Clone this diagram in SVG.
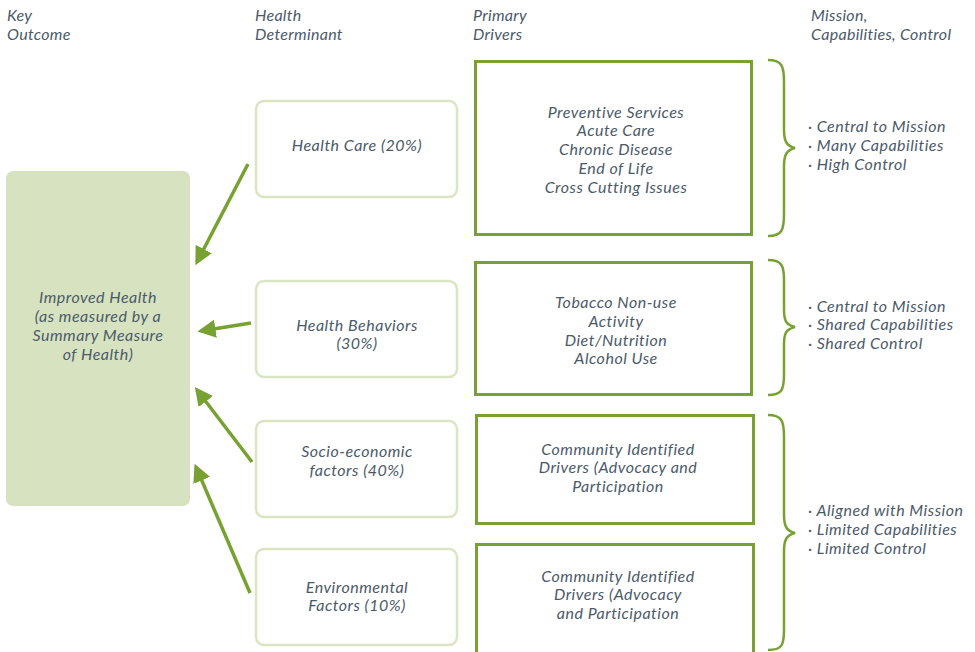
<svg xmlns="http://www.w3.org/2000/svg" width="975" height="652" viewBox="0 0 975 652">
<defs>
<style>
text{font-family:Lato,"Open Sans","Liberation Sans",sans-serif;font-style:italic;font-size:16px;letter-spacing:0.5px;fill:#4b5a69}
.h{letter-spacing:0.3px}
.c{text-anchor:middle}
.det{fill:#fff;stroke:#d9e5c3;stroke-width:2.5}
.drv{fill:#fff;stroke:#77a232;stroke-width:3}
.br{fill:none;stroke:#77a232;stroke-width:2.5}
.ar{stroke:#77a232;stroke-width:3.5;fill:none;marker-end:url(#ah)}
</style>
<marker id="ah" viewBox="0 0 10 10" refX="8" refY="5" markerWidth="5.2" markerHeight="5.2" orient="auto" markerUnits="strokeWidth">
<path d="M0,0 L10,5 L0,10 Z" fill="#77a232"/>
</marker>
</defs>
<rect width="975" height="652" fill="#fff"/>
<g id="headers">
<text class="h" x="7" y="21">Key</text><text class="h" x="7" y="40">Outcome</text>
<text class="h" x="255" y="21">Health</text><text class="h" x="255" y="40">Determinant</text>
<text class="h" x="473" y="21">Primary</text><text class="h" x="473" y="40">Drivers</text>
<text class="h" x="811" y="21">Mission,</text><text class="h" x="811" y="40">Capabilities, Control</text>
</g>
<g id="key-outcome">
<rect x="6" y="171" width="184" height="335" rx="7" fill="#d7e3c0"/>
<text class="c" x="98" y="303">Improved Health</text>
<text class="c" x="98" y="322">(as measured by a</text>
<text class="c" x="98" y="341">Summary Measure</text>
<text class="c" x="98" y="360">of Health)</text>
</g>
<g id="det-health-care">
<rect class="det" x="256" y="101" width="201" height="96" rx="8"/>
<text class="c" x="357" y="151">Health Care (20%)</text>
</g>
<g id="det-health-behaviors">
<rect class="det" x="256" y="281" width="201" height="96" rx="8"/>
<text class="c" x="357" y="331">Health Behaviors</text>
<text class="c" x="357" y="349">(30%)</text>
</g>
<g id="det-socio">
<rect class="det" x="256" y="421" width="201" height="96" rx="8"/>
<text class="c" x="357" y="457">Socio-economic</text>
<text class="c" x="357" y="476">factors (40%)</text>
</g>
<g id="det-env">
<rect class="det" x="256" y="549" width="201" height="96" rx="8"/>
<text class="c" x="357" y="593">Environmental</text>
<text class="c" x="357" y="611">Factors (10%)</text>
</g>
<g id="drv-1">
<rect class="drv" x="475.5" y="61.5" width="276" height="173"/>
<text class="c" x="616" y="118">Preventive Services</text>
<text class="c" x="616" y="136">Acute Care</text>
<text class="c" x="616" y="155">Chronic Disease</text>
<text class="c" x="616" y="174">End of Life</text>
<text class="c" x="616" y="193">Cross Cutting Issues</text>
</g>
<g id="drv-2">
<rect class="drv" x="475.5" y="262.5" width="276" height="132"/>
<text class="c" x="616" y="308">Tobacco Non-use</text>
<text class="c" x="616" y="327">Activity</text>
<text class="c" x="616" y="346">Diet/Nutrition</text>
<text class="c" x="616" y="364">Alcohol Use</text>
</g>
<g id="drv-3">
<rect class="drv" x="476.5" y="415.5" width="277" height="108"/>
<text class="c" x="618" y="455">Community Identified</text>
<text class="c" x="618" y="473">Drivers (Advocacy and</text>
<text class="c" x="618" y="492">Participation</text>
</g>
<g id="drv-4">
<rect class="drv" x="476.5" y="544.5" width="277" height="115"/>
<text class="c" x="618" y="582">Community Identified</text>
<text class="c" x="618" y="600">Drivers (Advocacy</text>
<text class="c" x="618" y="619">and Participation</text>
</g>
<g id="mission-1">
<path class="br" d="M768,60 C782,60 784,66 784,82 L784,130 C784,142 787,146 795,148 C787,150 784,154 784,166 L784,214 C784,230 782,236 768,236"/>
<text x="808" y="132">· Central to Mission</text>
<text x="808" y="151">· Many Capabilities</text>
<text x="808" y="170">· High Control</text>
</g>
<g id="mission-2">
<path class="br" d="M768,260 C782,260 784,266 784,280 L784,310 C784,322 787,325 795,327 C787,329 784,332 784,344 L784,374 C784,390 782,395 768,395"/>
<text x="808" y="312">· Central to Mission</text>
<text x="808" y="330">· Shared Capabilities</text>
<text x="808" y="349">· Shared Control</text>
</g>
<g id="mission-3">
<path class="br" d="M768,415 C782,415 784,421 784,437 L784,515 C784,527 787,531 795,533 C787,535 784,539 784,551 L784,630 C784,645 782,650 768,650"/>
<text x="808" y="516">· Aligned with Mission</text>
<text x="808" y="535">· Limited Capabilities</text>
<text x="808" y="554">· Limited Control</text>
</g>
<g id="connectors">
<line class="ar" x1="248" y1="164" x2="197" y2="262"/>
<line class="ar" x1="251" y1="323" x2="201" y2="331"/>
<line class="ar" x1="252" y1="462" x2="197" y2="390"/>
<line class="ar" x1="250" y1="593" x2="196" y2="467"/>
</g>
</svg>
